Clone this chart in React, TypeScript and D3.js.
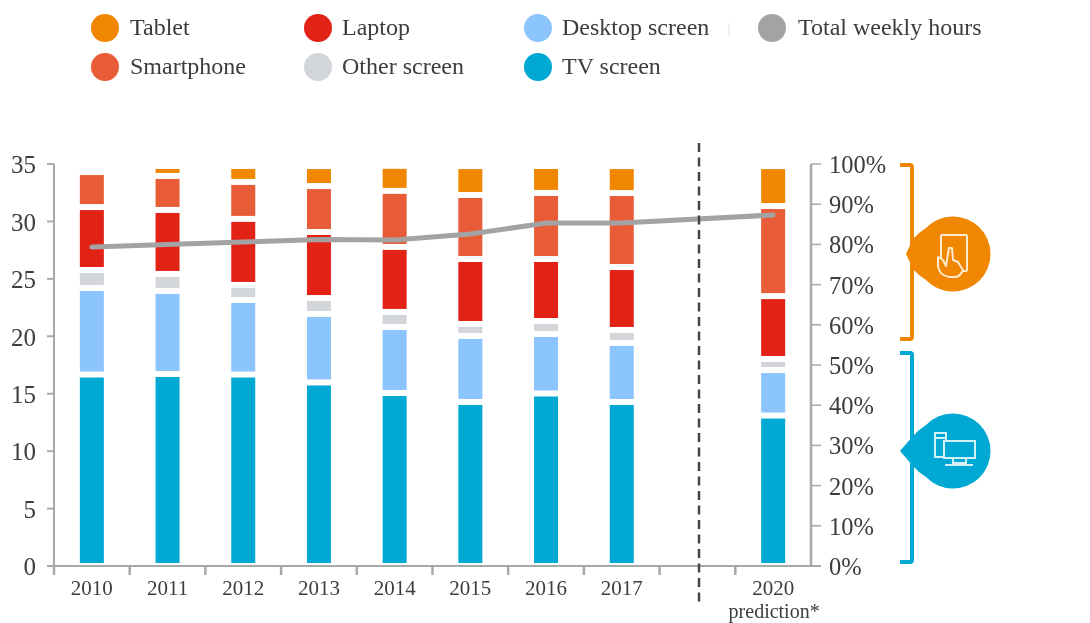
import React from "react";
import * as d3 from "d3";

const W = 1090;
const H = 623;

const years = ["2010", "2011", "2012", "2013", "2014", "2015", "2016", "2017", "gap", "2020"];
const barYears = ["2010", "2011", "2012", "2013", "2014", "2015", "2016", "2017", "2020"];

const tvScreen = [16.67, 16.72, 16.67, 15.98, 15.06, 14.28, 15.02, 14.28, 13.1];
const desktopScreen = [7.53, 7.23, 6.49, 5.96, 5.75, 5.75, 5.18, 5.14, 3.96];
const otherScreen = [1.57, 1.48, 1.31, 1.39, 1.31, 1.04, 1.13, 1.13, 0.96];
const laptop = [5.48, 5.57, 5.75, 5.75, 5.66, 5.66, 5.4, 5.48, 5.48];
const smartphone = [3.05, 2.96, 3.22, 4.0, 4.88, 5.57, 5.75, 6.44, 7.84];
const tablet = [0, 0.87, 1.39, 1.74, 2.18, 2.52, 2.35, 2.35, 3.48];
const totalWeeklyHours = [27.77, 27.99, 28.21, 28.43, 28.38, 28.9, 29.86, 29.86, 30.56];

const leftTicks = [0, 5, 10, 15, 20, 25, 30, 35];
const rightTicks = [0, 10, 20, 30, 40, 50, 60, 70, 80, 90, 100];

const ORANGE = "#f18700";
const BLUE = "#00a8d4";

const stackOrder = [
  { name: "TV screen", values: tvScreen, color: BLUE },
  { name: "Desktop screen", values: desktopScreen, color: "#8cc4fd" },
  { name: "Other screen", values: otherScreen, color: "#d2d5d9" },
  { name: "Laptop", values: laptop, color: "#e32119" },
  { name: "Smartphone", values: smartphone, color: "#e95c37" },
  { name: "Tablet", values: tablet, color: ORANGE },
];

const legendItems = [
  { name: "Tablet", color: ORANGE, cx: 105, cy: 28, tx: 130 },
  { name: "Smartphone", color: "#e95c37", cx: 105, cy: 67, tx: 130 },
  { name: "Laptop", color: "#e32119", cx: 318, cy: 28, tx: 342 },
  { name: "Other screen", color: "#d2d5d9", cx: 318, cy: 67, tx: 342 },
  { name: "Desktop screen", color: "#8cc4fd", cx: 538, cy: 28, tx: 562 },
  { name: "TV screen", color: BLUE, cx: 538, cy: 67, tx: 562 },
  { name: "Total weekly hours", color: "#a3a3a3", cx: 772, cy: 28, tx: 798 },
];

const SERIF = "'Liberation Serif', 'Times New Roman', serif";
const TEXT = "#3c3c3c";
const AXIS = "#a8a8a8";

const x = d3.scaleBand<string>().domain(years).range([54, 811]).paddingInner(0).paddingOuter(0);
const y = d3.scaleLinear().domain([0, 35]).range([566, 164]);
const yPct = d3.scaleLinear().domain([0, 100]).range([566, 164]);
const cx = (yr: string) => (x(yr) as number) + x.bandwidth() / 2;
const BAR_W = 24;
const GAP = 3;

const stackRows = barYears.map((yr, i) => {
  const row: Record<string, number | string> = { year: yr };
  stackOrder.forEach((s) => (row[s.name] = s.values[i]));
  return row;
});
const stacked = d3
  .stack<Record<string, number | string>>()
  .keys(stackOrder.map((s) => s.name))(stackRows as any);

const linePath = d3
  .line<number>()
  .x((_, i) => cx(barYears[i]))
  .y((d) => y(d))(totalWeeklyHours) as string;

function Bracket({ top, bottom, color }: { top: number; bottom: number; color: string }) {
  return (
    <path
      d={`M900,${top} H910 Q912,${top} 912,${top + 2} V${bottom - 2} Q912,${bottom} 910,${bottom} H900`}
      fill="none"
      stroke={color}
      strokeWidth={4}
    />
  );
}

function Callout({ cy, tipX, color }: { cy: number; tipX: number; color: string }) {
  const r = 37.5;
  return (
    <path
      d={`M${tipX},${cy} L913,${cy - 15} Q918,${cy - 21} 926,${cy - 26} A${r},${r} 0 1 1 926,${cy + 26} Q918,${cy + 21} 913,${cy + 15} Z`}
      fill={color}
    />
  );
}

export default function App() {
  return (
    <svg
      width={W}
      height={H}
      viewBox={`0 0 ${W} ${H}`}
      style={{ position: "absolute", left: 0, top: 0, background: "#fff" }}
      fontFamily={SERIF}
    >
      <defs>
        <filter id="soft" x="-5%" y="-5%" width="110%" height="110%">
          <feGaussianBlur stdDeviation={0.45} />
        </filter>
      </defs>
      <g filter="url(#soft)">
        {/* legend */}
        {legendItems.map((d) => (
          <g key={d.name}>
            <circle cx={d.cx} cy={d.cy} r={14} fill={d.color} />
            <text x={d.tx} y={d.cy + 7} fontSize={24} fill={TEXT}>
              {d.name}
            </text>
          </g>
        ))}
        <line x1={729} x2={729} y1={23} y2={37} stroke="#ececec" strokeWidth={1.5} />

        {/* bars */}
        {stacked.map((layer, si) =>
          layer.map((seg, i) => {
            const top = y(seg[1]) + GAP;
            const bottom = y(seg[0]) - GAP;
            if (bottom - top <= 0) return null;
            return (
              <rect
                key={`${si}-${i}`}
                x={cx(barYears[i]) - BAR_W / 2}
                y={top}
                width={BAR_W}
                height={bottom - top}
                fill={stackOrder[si].color}
              />
            );
          })
        )}

        {/* total line */}
        <path d={linePath} fill="none" stroke="#a3a3a3" strokeWidth={5} strokeLinecap="round" />

        {/* left axis */}
        <line x1={54} x2={54} y1={y(35)} y2={566} stroke={AXIS} strokeWidth={2} />
        {leftTicks.map((t) => (
          <g key={t}>
            <line x1={47} x2={54} y1={y(t)} y2={y(t)} stroke={AXIS} strokeWidth={2} />
            <text x={36} y={y(t) + 1} dy="0.33em" textAnchor="end" fontSize={25} fill={TEXT}>
              {t}
            </text>
          </g>
        ))}

        {/* baseline and category ticks */}
        <line x1={47} x2={821} y1={566} y2={566} stroke={AXIS} strokeWidth={2} />
        {years.map((yr) => (
          <line
            key={yr}
            x1={x(yr) as number}
            x2={x(yr) as number}
            y1={566}
            y2={575}
            stroke={AXIS}
            strokeWidth={2.5}
          />
        ))}
        {barYears.map((yr) => (
          <text key={yr} x={cx(yr)} y={595} textAnchor="middle" fontSize={21} fill={TEXT}>
            {yr}
          </text>
        ))}
        <text x={cx("2020") + 1} y={618} textAnchor="middle" fontSize={20} fill={TEXT}>
          prediction*
        </text>

        {/* right axis */}
        <line x1={811} x2={811} y1={yPct(100)} y2={566} stroke={AXIS} strokeWidth={2.5} />
        {rightTicks.map((t) => (
          <g key={t}>
            <line x1={811} x2={821} y1={yPct(t)} y2={yPct(t)} stroke={AXIS} strokeWidth={1.5} />
            <text x={829} y={yPct(t) + 1} dy="0.33em" fontSize={24.5} fill={TEXT}>
              {t}%
            </text>
          </g>
        ))}

        {/* prediction divider */}
        <line x1={699} x2={699} y1={143} y2={604} stroke="#444" strokeWidth={2.5} strokeDasharray="9 5.5" />

        {/* brackets and callouts */}
        <Bracket top={165} bottom={339} color={ORANGE} />
        <Bracket top={353} bottom={562} color={BLUE} />
        <Callout cy={254} tipX={906} color={ORANGE} />
        <Callout cy={451} tipX={900} color={BLUE} />

        {/* tablet icon */}
        <g fill="none" stroke="#fde9cf" strokeWidth={2} strokeLinejoin="round">
          <rect x={941} y={235} width={26} height={36} rx={1} />
          <path
            d="M949,277 Q939,275 938,266 L938,257 L943,260 L946,266 L949,248 L952,248 L953,260 L958,262 L961,267 L963,270 Q960,277 955,277 Z"
            fill={ORANGE}
          />
        </g>

        {/* screen icon */}
        <g fill="none" stroke="#d4f1f9" strokeWidth={2}>
          <rect x={935} y={433} width={11} height={24} />
          <line x1={935} x2={946} y1={438} y2={438} />
          <rect x={944} y={441} width={31} height={17} fill={BLUE} />
          <path d="M953,458 V463 H966 V458" />
          <line x1={945} x2={973} y1={465} y2={465} />
        </g>
      </g>
    </svg>
  );
}
